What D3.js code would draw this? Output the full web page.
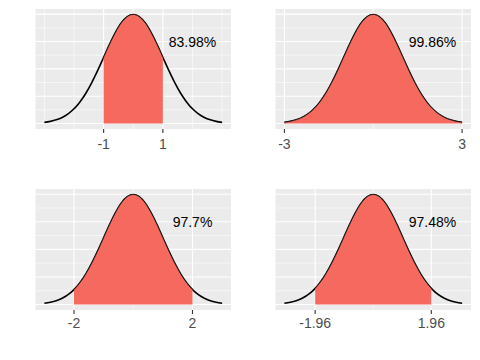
<!DOCTYPE html>
<html>
<head>
<meta charset="utf-8">
<script src="https://cdn.jsdelivr.net/npm/d3@7"></script>
<style>
  html, body { margin: 0; padding: 0; background: #ffffff; }
  svg { display: block; }
</style>
</head>
<body>
<svg id="chart" width="480" height="360"></svg>
<script>
// ---- data ----
const curveX = [-3, -2.8, -2.6, -2.4, -2.2, -2, -1.96, -1.8, -1.6, -1.4, -1.2, -1, -0.8, -0.6, -0.4, -0.2, 0,
                0.2, 0.4, 0.6, 0.8, 1, 1.2, 1.4, 1.6, 1.8, 1.96, 2, 2.2, 2.4, 2.6, 2.8, 3];
const curveY = [0.0044, 0.0079, 0.0136, 0.0224, 0.0355, 0.0540, 0.0584, 0.0790, 0.1109, 0.1497, 0.1942, 0.2420, 0.2897, 0.3332, 0.3683, 0.3910, 0.3989,
                0.3910, 0.3683, 0.3332, 0.2897, 0.2420, 0.1942, 0.1497, 0.1109, 0.0790, 0.0584, 0.0540, 0.0355, 0.0224, 0.0136, 0.0079, 0.0044];
const lowerBounds = [-1, -3, -2, -1.96];
const upperBounds = [1, 3, 2, 1.96];
const tickLabels = [["-1", "1"], ["-3", "3"], ["-2", "2"], ["-1.96", "1.96"]];
const minorXBreaks = [[-3, -2, 0, 2, 3], [0], [0], [0]];
const areaLabels = ["83.98%", "99.86%", "97.7%", "97.48%"];
const labelX = 2;
const labelY = 0.3;
const yMajor = [0, 0.1, 0.2, 0.3, 0.4];
const yMinor = [0.05, 0.15, 0.25, 0.35];

// ---- layout ----
const panels = [
  { x0: 35.5, x1: 231, y0: 9, y1: 129, labY: 149 },
  { x0: 275.5, x1: 471, y0: 9, y1: 129, labY: 149 },
  { x0: 35.5, x1: 231, y0: 189, y1: 310, labY: 328 },
  { x0: 275.5, x1: 471, y0: 189, y1: 310, labY: 328 }
];

const pts = curveX.map((x, i) => ({ x: x, y: curveY[i] }));
const svg = d3.select("#chart");
const font = "'Liberation Sans', Arial, Helvetica, sans-serif";

panels.forEach((p, i) => {
  const xs = d3.scaleLinear().domain([-3.3, 3.3]).range([p.x0, p.x1]);
  const ys = d3.scaleLinear().domain([-0.01995, 0.41889]).range([p.y1, p.y0]);
  const g = svg.append("g");

  g.append("rect")
    .attr("x", p.x0).attr("y", p.y0)
    .attr("width", p.x1 - p.x0).attr("height", p.y1 - p.y0)
    .attr("fill", "#EBEBEB");

  // minor gridlines
  g.selectAll(".hminor").data(yMinor).enter().append("line")
    .attr("x1", p.x0).attr("x2", p.x1)
    .attr("y1", d => ys(d)).attr("y2", d => ys(d))
    .attr("stroke", "#ffffff").attr("stroke-width", 0.55);
  g.selectAll(".vminor").data(minorXBreaks[i]).enter().append("line")
    .attr("y1", p.y0).attr("y2", p.y1)
    .attr("x1", d => xs(d)).attr("x2", d => xs(d))
    .attr("stroke", "#ffffff").attr("stroke-width", 0.55);
  // major gridlines
  g.selectAll(".hmajor").data(yMajor).enter().append("line")
    .attr("x1", p.x0).attr("x2", p.x1)
    .attr("y1", d => ys(d)).attr("y2", d => ys(d))
    .attr("stroke", "#ffffff").attr("stroke-width", 1.1);
  const majors = [lowerBounds[i], upperBounds[i]];
  g.selectAll(".vmajor").data(majors).enter().append("line")
    .attr("y1", p.y0).attr("y2", p.y1)
    .attr("x1", d => xs(d)).attr("x2", d => xs(d))
    .attr("stroke", "#ffffff").attr("stroke-width", 1.1);

  // full curve (thick)
  const line = d3.line().x(d => xs(d.x)).y(d => ys(d.y)).curve(d3.curveMonotoneX);
  g.append("path").attr("d", line(pts))
    .attr("fill", "none").attr("stroke", "#000").attr("stroke-width", 1.6);

  // shaded area
  const sub = pts.filter(d => d.x >= lowerBounds[i] - 1e-9 && d.x <= upperBounds[i] + 1e-9);
  const area = d3.area().x(d => xs(d.x)).y0(ys(0)).y1(d => ys(d.y)).curve(d3.curveMonotoneX);
  g.append("path").attr("d", area(sub)).attr("fill", "#F6695E");
  g.append("path").attr("d", line(sub))
    .attr("fill", "none").attr("stroke", "#1a1a1a").attr("stroke-width", 0.7);

  // axis ticks and labels
  g.selectAll(".tick").data(majors).enter().append("line")
    .attr("x1", d => xs(d)).attr("x2", d => xs(d))
    .attr("y1", p.y1).attr("y2", p.y1 + 4)
    .attr("stroke", "#333333").attr("stroke-width", 1.1);
  g.selectAll(".tlab").data(majors).enter().append("text")
    .attr("x", d => xs(d)).attr("y", p.labY)
    .attr("text-anchor", "middle")
    .attr("font-family", font).attr("font-size", 14)
    .attr("fill", "#4D4D4D")
    .text((d, k) => tickLabels[i][k]);

  // annotation
  g.append("text")
    .attr("x", xs(labelX)).attr("y", ys(labelY)).attr("dy", "0.37em")
    .attr("text-anchor", "middle")
    .attr("font-family", font).attr("font-size", 14)
    .attr("fill", "#000")
    .text(areaLabels[i]);
});
</script>
</body>
</html>
